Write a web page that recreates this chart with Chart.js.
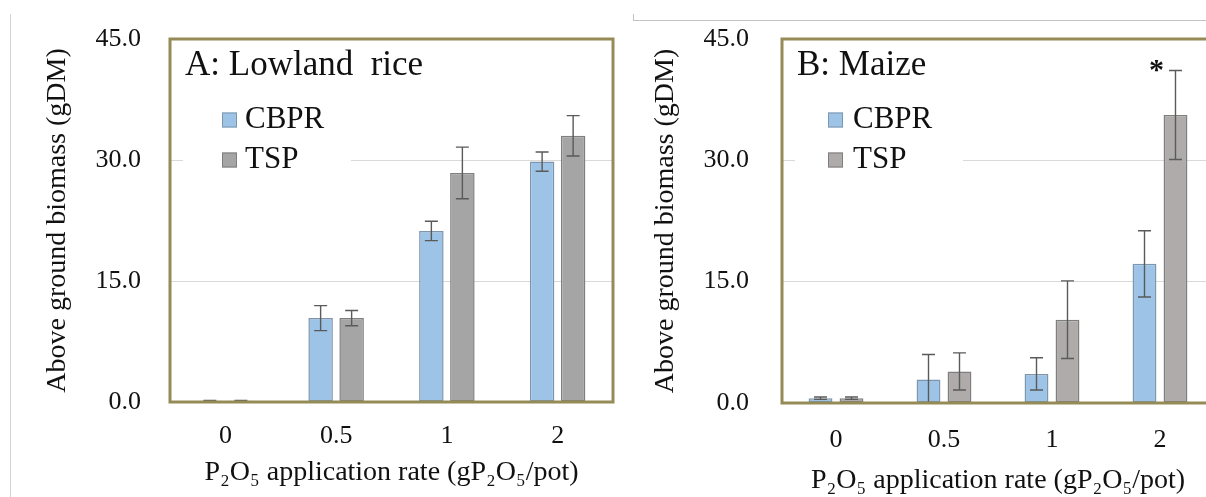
<!DOCTYPE html>
<html lang="en">
<head>
  <meta charset="UTF-8">
  <title>Above ground biomass - lowland rice and maize</title>
  <script src="https://cdn.jsdelivr.net/npm/chart.js"></script>
  <style>
    body {
      margin: 0;
      width: 1206px;
      height: 497px;
      overflow: hidden;
      position: relative;
      background: #fff;
      font-family: "Liberation Serif", serif;
    }
    canvas {
      position: absolute;
      top: 0;
    }
    #riceChart { left: 0; }
    #maizeChart { left: 620px; }
    .edge {
      position: absolute;
      background: #d4d4d4;
    }
  </style>
</head>
<body>
  <div class="edge" style="left:10px; top:14px; width:1px; height:483px;"></div>
  <div class="edge" style="left:633px; top:20px; width:573px; height:1px; background:#c4c4c4;"></div>
  <div class="edge" style="left:633px; top:14px; width:1px; height:6px; background:#c4c4c4;"></div>

  <canvas id="riceChart" width="630" height="497"></canvas>
  <canvas id="maizeChart" width="600" height="497"></canvas>

  <script>
    // P2O5 application rates (g/pot)
    const rates = ["0", "0.5", "1", "2"];
    const seriesNames = ["CBPR", "TSP"];

    // A: lowland rice, above ground biomass (gDM) with error bars
    const riceCBPR = [0.15, 10.4, 21.2, 29.8];
    const riceCBPRErr = [0.05, 1.55, 1.2, 1.2];
    const riceTSP = [0.15, 10.4, 28.4, 33.0];
    const riceTSPErr = [0.05, 0.95, 3.2, 2.5];

    // B: maize
    const maizeCBPR = [0.6, 2.9, 3.6, 17.2];
    const maizeCBPRErr = [0.15, 3.1, 2.0, 4.1];
    const maizeTSP = [0.6, 3.9, 10.3, 35.6];
    const maizeTSPErr = [0.15, 2.3, 4.8, 5.5];

    const yMin = 0, yMax = 45, yStep = 15;

    const serif = "Liberation Serif";
    const ink = "#111";

    // white patch behind legend, then title, legend, error bars, star and box
    const panelDeco = {
      id: "panelDeco",
      beforeDatasetsDraw(chart, args, o) {
        const {ctx, chartArea: a} = chart;
        ctx.save();
        ctx.fillStyle = "#fff";
        ctx.fillRect(a.left + 13, a.top + 58, 168, 135);
        ctx.restore();
      },
      afterDatasetsDraw(chart, args, o) {
        const {ctx, chartArea: a} = chart;
        const y = chart.scales.y;

        // error bars
        ctx.save();
        ctx.beginPath();
        ctx.rect(a.left, a.top, a.width, a.height);
        ctx.clip();
        ctx.strokeStyle = "#5a5a5a";
        ctx.lineWidth = 1.4;
        chart.data.datasets.forEach((ds, i) => {
          chart.getDatasetMeta(i).data.forEach((bar, j) => {
            const v = ds.data[j], e = ds.errors[j];
            const top = y.getPixelForValue(v + e);
            const bot = y.getPixelForValue(v - e);
            ctx.beginPath();
            ctx.moveTo(bar.x, top); ctx.lineTo(bar.x, bot);
            ctx.moveTo(bar.x - 6.5, top); ctx.lineTo(bar.x + 6.5, top);
            ctx.moveTo(bar.x - 6.5, bot); ctx.lineTo(bar.x + 6.5, bot);
            ctx.stroke();
          });
        });
        ctx.restore();

        // significance mark
        if (o.star) {
          const ds = chart.data.datasets[o.star.dataset];
          const bar = chart.getDatasetMeta(o.star.dataset).data[o.star.index];
          const top = y.getPixelForValue(ds.data[o.star.index] + ds.errors[o.star.index]);
          ctx.save();
          ctx.fillStyle = ink;
          ctx.font = "bold 30px '" + serif + "'";
          ctx.textAlign = "center";
          ctx.textBaseline = "alphabetic";
          ctx.fillText("*", bar.x - 19, top + 8);
          ctx.restore();
        }

        // panel box
        ctx.save();
        ctx.strokeStyle = "#958b57";
        ctx.lineWidth = 3;
        ctx.strokeRect(a.left, a.top, a.width, a.height);
        ctx.restore();

        // panel title
        ctx.save();
        ctx.fillStyle = ink;
        ctx.textBaseline = "middle";
        ctx.font = "35px '" + serif + "'";
        ctx.fillText(o.title, a.left + 15, a.top + 27);

        // legend
        ctx.font = "31px '" + serif + "'";
        chart.data.datasets.forEach((ds, i) => {
          const cy = a.top + 81 + i * 40;
          ctx.fillStyle = ds.backgroundColor;
          ctx.fillRect(a.left + o.boxX, cy - 7.5, 15, 15);
          ctx.strokeStyle = ds.borderColor;
          ctx.lineWidth = 1;
          ctx.strokeRect(a.left + o.boxX + 0.5, cy - 7, 14, 14);
          ctx.fillStyle = ink;
          ctx.fillText(ds.label, a.left + o.textX, cy);
        });
        ctx.restore();
      }
    };

    function buildChart(id, values, tspColor, geo) {
      const ctx = document.getElementById(id).getContext("2d");
      return new Chart(ctx, {
        type: "bar",
        data: {
          labels: rates,
          datasets: [
            {
              label: seriesNames[0],
              data: values[0],
              errors: values[1],
              backgroundColor: "#9dc3e6",
              borderColor: "#7d95ad",
              borderWidth: 1.5,
              borderSkipped: false,
              categoryPercentage: geo.cat,
              barPercentage: geo.bar
            },
            {
              label: seriesNames[1],
              data: values[2],
              errors: values[3],
              backgroundColor: tspColor,
              borderColor: "#7f7f7f",
              borderWidth: 1.5,
              borderSkipped: false,
              categoryPercentage: geo.cat,
              barPercentage: geo.bar
            }
          ]
        },
        options: {
          responsive: false,
          animation: false,
          layout: {
            padding: {left: 0, top: geo.padTop, right: geo.padRight, bottom: 0}
          },
          plugins: {
            legend: {display: false},
            tooltip: {enabled: false},
            panelDeco: {title: geo.title, star: geo.star, boxX: geo.boxX, textX: geo.textX}
          },
          scales: {
            x: {
              grid: {display: false, drawTicks: false},
              border: {display: false},
              ticks: {
                color: ink,
                padding: geo.xTickPad,
                font: {family: serif, size: 26}
              },
              title: {
                display: true,
                text: "P₂O₅ application rate (gP₂O₅/pot)",
                color: ink,
                font: {family: serif, size: 28},
                padding: {top: 0, bottom: geo.xTitlePad}
              },
              afterFit(scale) { scale.height = geo.xHeight; }
            },
            y: {
              min: yMin,
              max: yMax,
              grid: {color: "#d9d9d9", lineWidth: 1, drawTicks: false},
              border: {display: false},
              ticks: {
                stepSize: yStep,
                color: ink,
                padding: geo.yTickPad,
                font: {family: serif, size: 26},
                callback: v => v.toFixed(1)
              },
              title: {
                display: true,
                text: "Above ground biomass (gDM)",
                color: ink,
                font: {family: serif, size: 28},
                padding: {top: geo.yTitlePad, bottom: 0}
              },
              afterFit(scale) {
                scale.width = geo.yWidth;
                // keep the tick padding from pushing the plot area down
                scale.paddingTop = 16;
                scale.paddingBottom = 16;
              }
            }
          }
        },
        plugins: [panelDeco]
      });
    }

    buildChart("riceChart", [riceCBPR, riceCBPRErr, riceTSP, riceTSPErr], "#a5a5a5", {
      title: "A: Lowland  rice",
      star: null,
      cat: 0.56, bar: 0.79,
      padTop: 39, padRight: 17, yWidth: 170, xHeight: 95,
      yTickPad: 29, yTitlePad: 41, xTickPad: 19, xTitlePad: 8,
      boxX: 52, textX: 75
    });

    buildChart("maizeChart", [maizeCBPR, maizeCBPRErr, maizeTSP, maizeTSPErr], "#afabab", {
      title: "B: Maize",
      star: {dataset: 1, index: 3},
      cat: 0.574, bar: 0.77,
      padTop: 39, padRight: 6, yWidth: 162, xHeight: 94,
      yTickPad: 33, yTitlePad: 29, xTickPad: 22, xTitlePad: 0,
      boxX: 46, textX: 71
    });
  </script>
</body>
</html>
